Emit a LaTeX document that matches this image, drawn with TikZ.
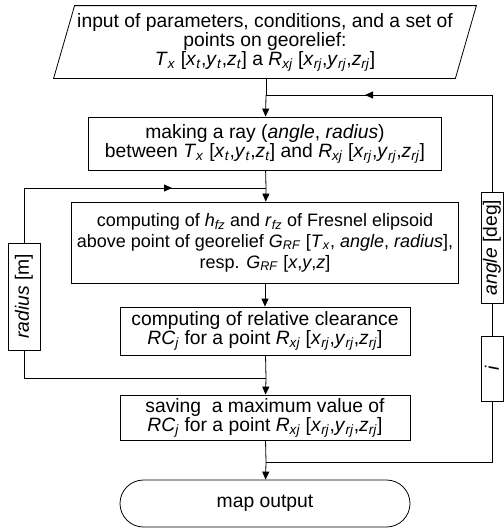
\documentclass[tikz,border=0pt]{standalone}
\usepackage{fontspec}
\setmainfont{Liberation Sans}
\usetikzlibrary{shapes.misc, arrows.meta}

\newcommand{\vsb}[2]{\textit{#1}\textsubscript{\textit{#2}}}
\newcommand{\tpt}{\vsb{T}{x} [\vsb{x}{t},\vsb{y}{t},\vsb{z}{t}]}
\newcommand{\rpt}{\vsb{R}{xj} [\vsb{x}{rj},\vsb{y}{rj},\vsb{z}{rj}]}

\begin{document}
\begin{tikzpicture}[x=1pt, y=-1pt, node distance={100pt}, line width=0.8pt,
    >={Triangle[length=8pt, width=7pt]},
    every node/.style = {font=\fontsize{19.3}{19}\selectfont},
    box/.style = {draw, rectangle, align=center, inner sep=0pt},
    inbox/.style = {rectangle, align=center, inner sep=0pt, minimum width=401pt, minimum height=72pt},
    endbox/.style = {draw, rounded rectangle, inner sep=0pt, minimum width=290pt, minimum height=47pt},
    tag/.style = {draw, fill=white, rotate=90, inner sep=0pt}]
        \useasboundingbox (0,0) rectangle (504,531);

        \node[inbox] (in) at (265,42) {input of parameters, conditions, and a set of\\ points on georelief:\\ \tpt{} a \rpt};
        \draw ([xshift=10.5pt]in.north west) -- ([xshift=10.5pt]in.north east)
            -- ([xshift=-10.5pt]in.south east) -- ([xshift=-10.5pt]in.south west) -- cycle;
        \node[box, minimum width=353pt, minimum height=53pt] (ray) [below of = in, node distance=101.5pt]
            {making a ray (\textit{angle}, \textit{radius})\\ between \tpt{} and \rpt};
        \node[box, minimum width=387pt, minimum height=81pt, font=\fontsize{18}{21}\selectfont] (fz) [below of = ray, node distance=99pt]
            {computing of \vsb{h}{fz} and \vsb{r}{fz} of Fresnel elipsoid\\
             above point of georelief \vsb{G}{RF} [\vsb{T}{x}, \textit{angle}, \textit{radius}],\\
             resp. \vsb{G}{RF} [\textit{x},\textit{y},\textit{z}]};
        \node[box, minimum width=290pt, minimum height=48pt] (rc) [below of = fz, node distance=88.5pt]
            {computing of relative clearance\\ \vsb{RC}{j} for a point \rpt};
        \node[box, minimum width=290pt, minimum height=45pt] (max) [below of = rc, node distance=86.5pt]
            {saving\ \ a maximum value of\\ \vsb{RC}{j} for a point \rpt};
        \node[endbox] (map) [below of = max, node distance=86pt] {map output};

        \coordinate (j1) at (266,95);
        \coordinate (j2) at (266,188);
        \coordinate (j3) at (266,378);
        \coordinate (j4) at (266,462);
        \coordinate (rb) at (492,462);
        \coordinate (rt) at (492,95);
        \coordinate (ra) at (365,95);
        \coordinate (lb) at (24,378);
        \coordinate (lt) at (24,188);
        \coordinate (la) at (172,188);

        \node[tag, minimum width=107pt, minimum height=32pt] (rad) at (24,296.5) {\textit{radius} [m]};
        \node[tag, minimum width=111pt, minimum height=22pt] (ang) at (492,247.5) {\textit{angle} [deg]};
        \node[tag, minimum width=65pt, minimum height=22pt] (idx) at (492,368.5) {\textit{i}};

        \draw[-] (in.south -| j1) -- (j1);
        \draw[->] (j1) -- (ray);
        \draw[-] (ray) -- (j2);
        \draw[->] (j2) -- (fz);
        \draw[->] (fz) -- (rc);
        \draw[-] (rc) -- (j3);
        \draw[->] (j3) -- (max);
        \draw[-] (max) -- (j4);
        \draw[->] (j4) -- (map);

        \draw[-] (j3) -- (lb) -- (rad);
        \draw[-] (rad) |- (la);
        \draw[->] (lt) -- (la);
        \draw[-] (la) -- (j2);

        \draw[-] (j4) -- (rb) -- (idx);
        \draw[-] (idx) -- (ang);
        \draw[-] (ang) |- (ra);
        \draw[->] (rt) -- (ra);
        \draw[-] (ra) -- (j1);

    \end{tikzpicture}
\end{document}
